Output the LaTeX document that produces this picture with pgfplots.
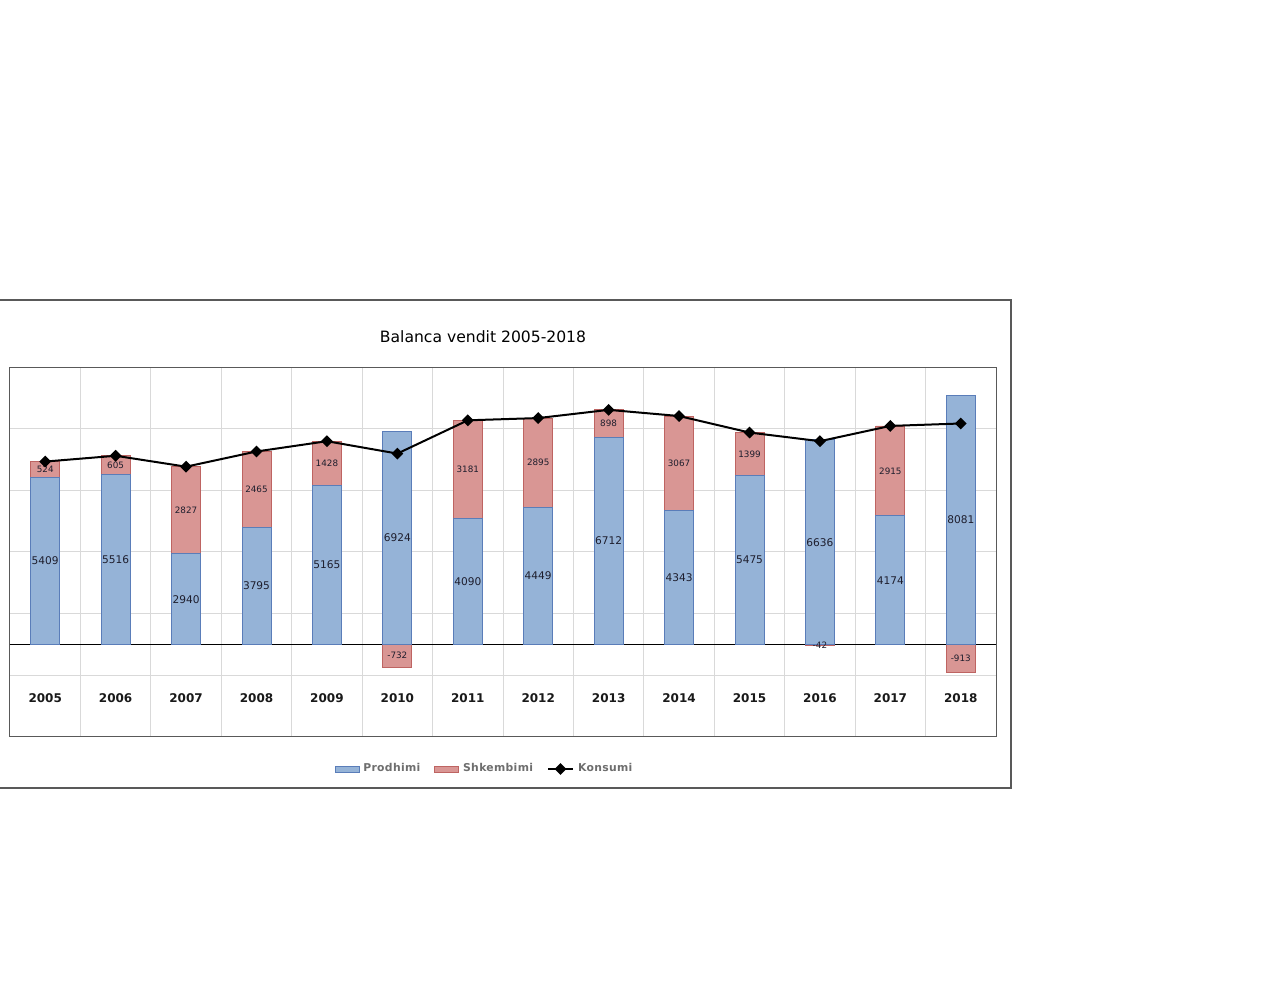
\documentclass[border=0pt]{standalone}
\usepackage{pgfplots}
\pgfplotsset{compat=1.18}
\usepackage{pgfplotstable}
\usepackage{fontspec}
\setmainfont{DejaVu Sans}
\definecolor{pfill}{RGB}{149,179,215}
\definecolor{pedge}{RGB}{90,125,185}
\definecolor{sfill}{RGB}{217,150,148}
\definecolor{sedge}{RGB}{190,100,98}
\definecolor{gridc}{RGB}{217,217,217}
\definecolor{framec}{RGB}{89,89,89}
\definecolor{legc}{RGB}{110,110,110}
\definecolor{labc}{RGB}{30,30,45}
\pgfplotsset{
  konslegend/.style={legend image code/.code={\draw[mark repeat=2,mark phase=2,##1] plot coordinates {(0pt,0pt)(6.25pt,0pt)(12.5pt,0pt)};}},
  plegend/.style={legend image code/.code={\draw[fill=pfill,draw=pedge,line width=0.4pt] (0pt,-1.5pt) rectangle (12pt,1.5pt);}},
  slegend/.style={legend image code/.code={\draw[fill=sfill,draw=sedge,line width=0.4pt] (0pt,-1.5pt) rectangle (12pt,1.5pt);}},
}
\pgfplotstableread{
x p s k
0 5409 524 5933
1 5516 605 6121
2 2940 2827 5767
3 3795 2465 6260
4 5165 1428 6593
5 6924 -732 6192
6 4090 3181 7271
7 4449 2895 7344
8 6712 898 7610
9 4343 3067 7410
10 5475 1399 6874
11 6636 -42 6594
12 4174 2915 7089
13 8081 -913 7168
}\data
\begin{document}
\begin{tikzpicture}
\path[use as bounding box, fill=white] (0,0) rectangle (640pt,500pt);
\draw[framec, line width=0.7pt] (0,350pt) -- (505.5pt,350pt) -- (505.5pt,106pt) -- (0,106pt);
\node[font=\fontsize{7.8}{9}\selectfont, text=black] at (241.5pt,331.5pt) {Balanca vendit 2005-2018};
\begin{axis}[
  at={(5pt,131.5pt)}, anchor=south west, scale only axis,
  width=493pt, height=185pt,
  xmin=-0.5, xmax=13.5, ymin=-3000, ymax=9000,
  xtick={0,1,2,3,4,5,6,7,8,9,10,11,12,13},
  xticklabels={2005,2006,2007,2008,2009,2010,2011,2012,2013,2014,2015,2016,2017,2018},
  minor xtick={0.5,1.5,2.5,3.5,4.5,5.5,6.5,7.5,8.5,9.5,10.5,11.5,12.5},
  xmajorgrids=false, xminorgrids=true,
  ytick={-3000,-1000,1000,3000,5000,7000,9000}, yticklabels={},
  ymajorgrids=true,
  major tick length=0pt, minor tick length=0pt,
  grid style={gridc, line width=0.5pt},
  minor grid style={gridc, line width=0.5pt},
  axis line style={framec, line width=0.5pt},
  extra y ticks={0}, extra y tick labels={},
  extra y tick style={grid style={black, line width=0.6pt}},
  xticklabel style={anchor=center, yshift=19.5pt, font=\fontsize{6}{7}\selectfont\bfseries, text=black!90},
  legend style={at={(0.4822,-0.0865)}, anchor=center, draw=none, fill=none,
    legend columns=3, font=\fontsize{5.4}{6.5}\selectfont\bfseries\addfontfeature{LetterSpace=3},
    text=legc, inner sep=0pt,
    /tikz/every even column/.append style={column sep=5pt},
    /tikz/every odd column/.append style={column sep=0pt}},
]
\addlegendimage{plegend}
\addlegendentry{Prodhimi}
\addlegendimage{slegend}
\addlegendentry{Shkembimi}
% Shkembimi bars (positive ones drawn from 0 to total, then covered by Prodhimi)
\addplot[forget plot, ybar, bar width=14.5pt, bar shift=0pt, fill=sfill, draw=sedge, line width=0.4pt]
  table[x=x, y expr={\thisrow{s}+(\thisrow{s}>0)*\thisrow{p}}] {\data};
% Prodhimi bars
\addplot[forget plot, ybar, bar width=14.5pt, bar shift=0pt, fill=pfill, draw=pedge, line width=0.4pt]
  table[x=x, y=p] {\data};
% labels Prodhimi
\addplot[forget plot, draw=none, mark=none, nodes near coords, point meta=explicit symbolic,
  every node near coord/.append style={anchor=center, font=\fontsize{5.3}{6}\selectfont, text=labc}]
  table[x=x, y expr={\thisrow{p}/2}, meta=p] {\data};
% labels Shkembimi
\addplot[forget plot, draw=none, mark=none, nodes near coords, point meta=explicit symbolic,
  every node near coord/.append style={anchor=center, font=\fontsize{4.4}{5}\selectfont, text=labc}]
  table[x=x, y expr={\thisrow{s}/2+(\thisrow{s}>0)*\thisrow{p}}, meta=s] {\data};
% Konsumi
\addplot[black, line width=1pt, mark=square*, mark size=1.6pt, mark options={rotate=45}, konslegend]
  table[x=x, y=k] {\data};
\addlegendentry{Konsumi}
\end{axis}
\end{tikzpicture}
\end{document}
